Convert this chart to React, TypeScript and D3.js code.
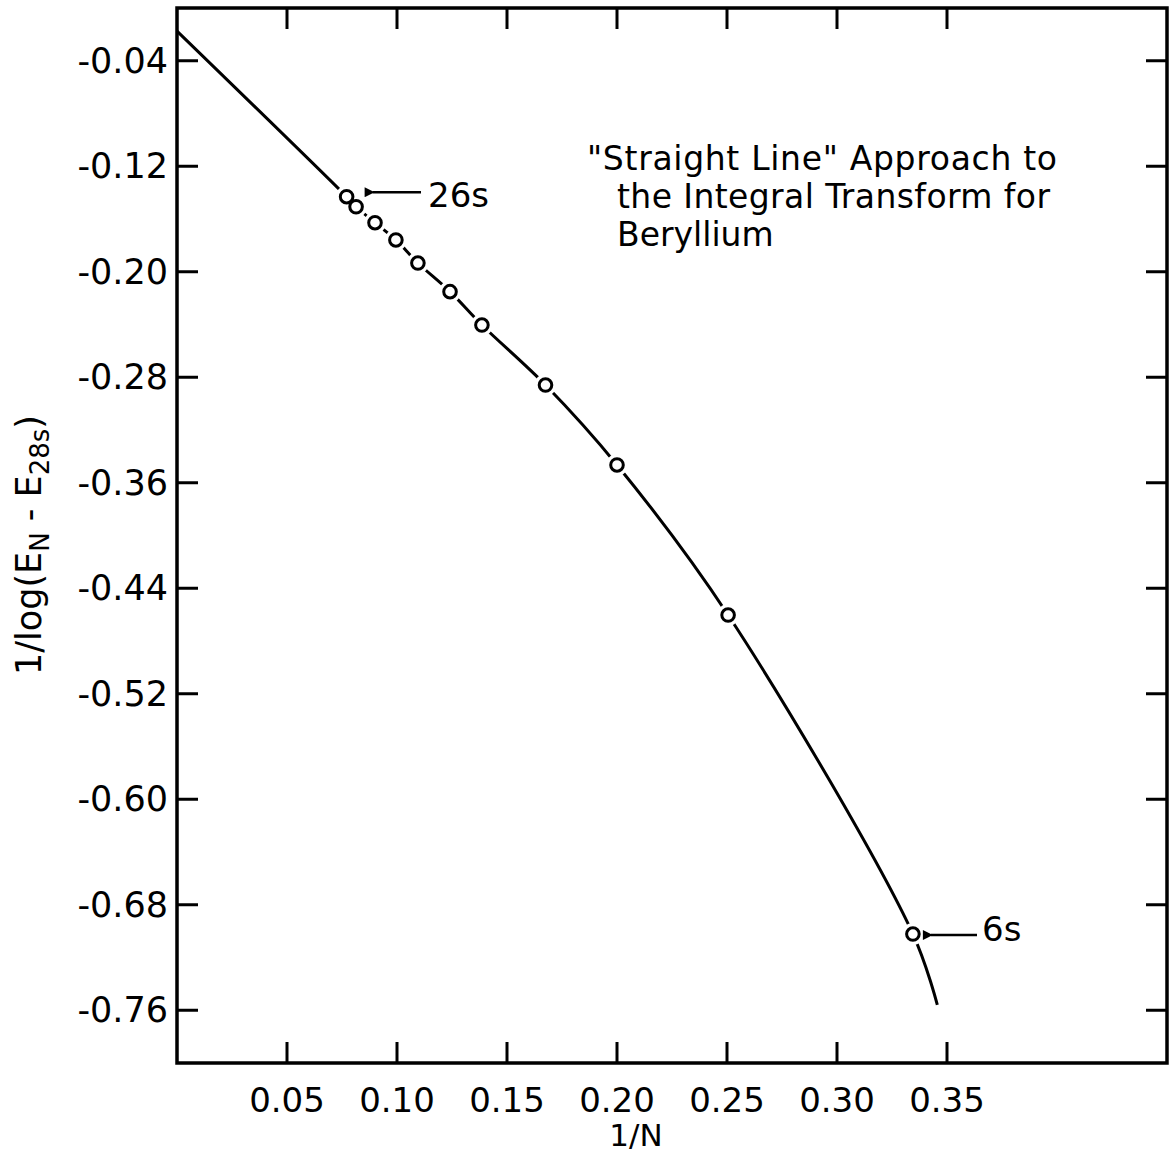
import React from "react";
import * as d3 from "d3";

const labels = ["26s", "24s", "22s", "20s", "18s", "16s", "14s", "12s", "10s", "8s", "6s"];
const invN = [0.0771, 0.0814, 0.09, 0.0995, 0.1095, 0.1241, 0.1386, 0.1675, 0.2, 0.2505, 0.3345];
const yVals = [-0.1431, -0.1507, -0.1628, -0.1759, -0.1934, -0.2151, -0.2404, -0.2859, -0.3465, -0.4603, -0.7022];
const curveStart = [0.0, -0.0175];
const curveEnd = [0.3456, -0.756];
const xTicks = [0.05, 0.1, 0.15, 0.2, 0.25, 0.3, 0.35];
const xTickLabels = ["0.05", "0.10", "0.15", "0.20", "0.25", "0.30", "0.35"];
const yTicks = [-0.04, -0.12, -0.2, -0.28, -0.36, -0.44, -0.52, -0.6, -0.68, -0.76];
const yTickLabels = ["-0.04", "-0.12", "-0.20", "-0.28", "-0.36", "-0.44", "-0.52", "-0.60", "-0.68", "-0.76"];
const titleLines = ["\"Straight Line\" Approach to", "the Integral Transform for", "Beryllium"];

const W = 1175;
const H = 1154;
const L = 177, R = 1167, T = 8, B = 1063;
const font = "'DejaVu Sans', sans-serif";

export default function App() {
  const x = d3.scaleLinear().domain([0, 0.45]).range([L, R]);
  const y = d3.scaleLinear().domain([0, -0.8]).range([T, B]);
  const pts: [number, number][] = [
    [curveStart[0], curveStart[1]],
    ...invN.map((v, i) => [v, yVals[i]] as [number, number]),
    [curveEnd[0], curveEnd[1]],
  ];
  const line = d3
    .line<[number, number]>()
    .x((d) => x(d[0]))
    .y((d) => y(d[1]))
    .curve(d3.curveCatmullRom.alpha(0.5));
  const tick = 21;
  const i26 = labels.indexOf("26s");
  const i6 = labels.indexOf("6s");
  const p26 = [x(invN[i26]), y(yVals[i26])];
  const p6 = [x(invN[i6]), y(yVals[i6])];

  return (
    <svg width={W} height={H} style={{ display: "block", position: "absolute", left: 0, top: 0 }}>
      <defs>
        <marker id="ah" viewBox="0 0 10 10" refX="2" refY="5" markerWidth="6" markerHeight="4" orient="auto-start-reverse" markerUnits="strokeWidth">
          <path d="M0,5 L10,0 L10,10 Z" fill="#000" />
        </marker>
      </defs>
      <rect width={W} height={H} fill="#fff" />
      {/* frame */}
      <rect x={L} y={T} width={R - L} height={B - T} fill="none" stroke="#000" strokeWidth={3.5} />
      {xTicks.map((t) => (
        <g key={"xt" + t}>
          <line x1={x(t)} x2={x(t)} y1={B} y2={B - tick} stroke="#000" strokeWidth={3} />
          <line x1={x(t)} x2={x(t)} y1={T} y2={T + tick} stroke="#000" strokeWidth={3} />
        </g>
      ))}
      {yTicks.map((t) => (
        <g key={"yt" + t}>
          <line x1={L} x2={L + tick} y1={y(t)} y2={y(t)} stroke="#000" strokeWidth={3} />
          <line x1={R} x2={R - tick} y1={y(t)} y2={y(t)} stroke="#000" strokeWidth={3} />
        </g>
      ))}
      {xTicks.map((t, i) => (
        <text key={"xl" + t} x={x(t)} y={1112} textAnchor="middle" fontFamily={font} fontSize={34} fill="#000">
          {xTickLabels[i]}
        </text>
      ))}
      {yTicks.map((t, i) => (
        <text key={"yl" + t} x={168} y={y(t) + 12} textAnchor="end" fontFamily={font} fontSize={35} fill="#000">
          {yTickLabels[i]}
        </text>
      ))}
      <text x={636} y={1146} textAnchor="middle" fontFamily={font} fontSize={31} fill="#000">1/N</text>
      <text transform="translate(41,545) rotate(-90)" textAnchor="middle" fontFamily={font} fontSize={35} fill="#000">
        1/log(E<tspan dy={8} fontSize={26}>N</tspan>
        <tspan dy={-8}> - E</tspan>
        <tspan dy={8} fontSize={26}>28s</tspan>
        <tspan dy={-8}>)</tspan>
      </text>
      <path d={line(pts) || ""} fill="none" stroke="#000" strokeWidth={3} />
      {invN.map((v, i) => (
        <circle key={"h" + i} cx={x(v)} cy={y(yVals[i])} r={11} fill="#fff" />
      ))}
      {invN.map((v, i) => (
        <circle key={"c" + i} cx={x(v)} cy={y(yVals[i])} r={6.3} fill="#fff" stroke="#000" strokeWidth={3} />
      ))}
      <line x1={421} y1={p26[1] - 4.5} x2={p26[0] + 26} y2={p26[1] - 4.5} stroke="#000" strokeWidth={2.5} markerEnd="url(#ah)" />
      <text x={428} y={207} fontFamily={font} fontSize={34} fill="#000">26s</text>
      <line x1={977} y1={p6[1] + 1} x2={p6[0] + 18} y2={p6[1] + 1} stroke="#000" strokeWidth={2.5} markerEnd="url(#ah)" />
      <text x={982} y={941} fontFamily={font} fontSize={34} fill="#000">6s</text>
      <text x={587} y={170} fontFamily={font} fontSize={33} fill="#000" textLength={470} lengthAdjust="spacing">{titleLines[0]}</text>
      <text x={617} y={208} fontFamily={font} fontSize={33} fill="#000" textLength={433} lengthAdjust="spacing">{titleLines[1]}</text>
      <text x={617} y={246} fontFamily={font} fontSize={33} fill="#000">{titleLines[2]}</text>
    </svg>
  );
}
